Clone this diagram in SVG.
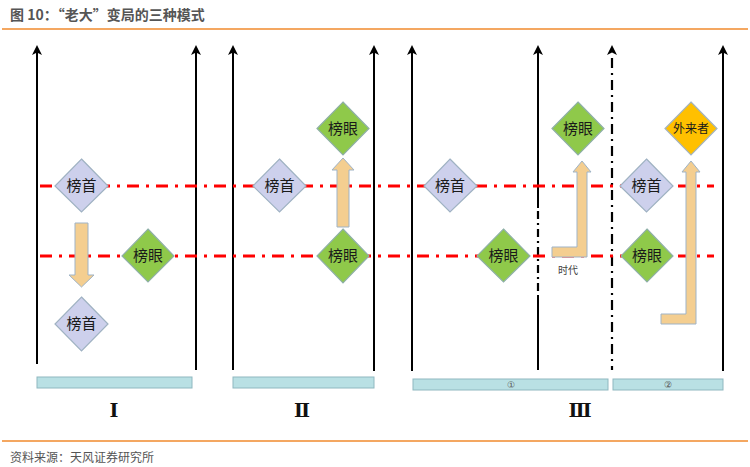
<svg xmlns="http://www.w3.org/2000/svg" xmlns:xlink="http://www.w3.org/1999/xlink" width="750" height="467" viewBox="0 0 750 467">
<style>
  .title{font-family:"Noto Sans CJK SC","Noto Sans",sans-serif;font-size:14px;font-weight:bold;fill:#555555}
  .src{font-family:"Noto Sans CJK SC","Noto Sans",sans-serif;font-size:12px;fill:#555555}
  .rule{stroke:#F08A2C;stroke-width:1.5}
  .axis{stroke:#000;stroke-width:2;fill:none}
  .axisdd{stroke:#000;stroke-width:2.2;fill:none;stroke-dasharray:10 5 2 5}
  .red{stroke:#FF0000;stroke-width:3;stroke-dasharray:12 7 3 7;fill:none}
  .arr{fill:#F4CE90;stroke:#9FB3C6;stroke-width:1}
  .d1{fill:#CDD0EC;stroke:#9FB2C2;stroke-width:1.2}
  .d2{fill:#8FC94A;stroke:#8FB0A8;stroke-width:1.2}
  .d3{fill:#FFC000;stroke:#A3B4C2;stroke-width:1.2}
  .lbl{font-family:"Noto Sans CJK SC","Noto Sans",sans-serif;font-size:15px;fill:#1a1a1a;text-anchor:middle}
  .lbls{font-family:"Noto Sans CJK SC","Noto Sans",sans-serif;font-size:12px;fill:#1a1a1a;text-anchor:middle}
  .bar{fill:#B9E0E4;stroke:#8FB8C0;stroke-width:1}
  .num{font-family:"DejaVu Sans",sans-serif;font-size:9px;fill:#555;text-anchor:middle}
  .rom{font-family:"DejaVu Serif",serif;font-size:19px;font-weight:bold;fill:#111;text-anchor:middle}
  .small{font-family:"Noto Sans CJK SC","Noto Sans",sans-serif;font-size:10px;fill:#444;text-anchor:middle}
</style>
<defs>
  <path id="head" d="M0 0 L5 10 L0 7.5 L-5 10 Z" fill="#000"/>
</defs>
<rect width="750" height="467" fill="#fff"/>
<text class="title" x="10" y="20">图 10：“老大”变局的三种模式</text>
<line class="rule" x1="2" y1="29" x2="748" y2="29"/>
<line class="rule" x1="2" y1="441" x2="748" y2="441"/>
<text class="src" x="10" y="462">资料来源：天风证券研究所</text>

<g id="connectors">
  <!-- axes -->
  <path class="axis" d="M37 50 L37 364"/>
  <use xlink:href="#head" href="#head" x="37" y="45"/>
  <path class="axis" d="M196 50 L196 370"/>
  <use xlink:href="#head" href="#head" x="196" y="45"/>
  <path class="axis" d="M233 50 L233 370"/>
  <use xlink:href="#head" href="#head" x="233" y="45"/>
  <path class="axis" d="M374 50 L374 371"/>
  <use xlink:href="#head" href="#head" x="374" y="45"/>
  <path class="axis" d="M412 50 L412 371"/>
  <use xlink:href="#head" href="#head" x="412" y="45"/>
  <path class="axis" d="M538 50 L538 208"/>
  <use xlink:href="#head" href="#head" x="538" y="45"/>
  <path class="axisdd" d="M538 211 L538 292" style="stroke-dasharray:8 4 2 4"/>
  <path class="axis" d="M538 295 L538 370"/>
  <path class="axisdd" d="M612 58 L612 370"/>
  <use xlink:href="#head" href="#head" x="612" y="45"/>
  <path class="axis" d="M723 50 L723 371"/>
  <use xlink:href="#head" href="#head" x="723" y="45"/>
  <!-- red level lines -->
  <line class="red" x1="40" y1="186" x2="714" y2="186"/>
  <line class="red" x1="40" y1="256" x2="714" y2="256"/>
  <!-- block arrows -->
  <polygon class="arr" points="75,223 88,223 88,275 94,275 81.5,287 69,275 75,275"/>
  <polygon class="arr" points="337,227 349,227 349,170 354,170 343,158 332,170 337,170"/>
  <polygon class="arr" points="552,247 577,247 577,172 573,172 582,161 591,172 587,172 587,257 552,257"/>
  <polygon class="arr" points="661,314 686,314 686,172 682,172 691,161 700,172 696,172 696,324 661,324"/>
</g>

<g id="n-I-top">
  <polygon class="d1" points="81.5,159 108,186 81.5,212 55,186"/>
  <text class="lbl" x="81.5" y="191">榜首</text>
</g>
<g id="n-I-second">
  <polygon class="d2" points="148,229 174,256 148,282 122,256"/>
  <text class="lbl" x="148" y="261">榜眼</text>
</g>
<g id="n-I-bottom">
  <polygon class="d1" points="81.5,297 108,324 81.5,351 55,324"/>
  <text class="lbl" x="81.5" y="329">榜首</text>
</g>

<g id="n-II-top">
  <polygon class="d1" points="279.5,159 306,186 279.5,212 253,186"/>
  <text class="lbl" x="279.5" y="191">榜首</text>
</g>
<g id="n-II-up">
  <polygon class="d2" points="343,102 369,128.5 343,155 317,128.5"/>
  <text class="lbl" x="343" y="134">榜眼</text>
</g>
<g id="n-II-second">
  <polygon class="d2" points="343,229 369,256 343,283 317,256"/>
  <text class="lbl" x="343" y="261">榜眼</text>
</g>

<g id="n-III1-top">
  <polygon class="d1" points="450,159 477,186 450,212 424,186"/>
  <text class="lbl" x="450" y="191">榜首</text>
</g>
<g id="n-III1-second">
  <polygon class="d2" points="503.5,229 530,256 503.5,282 477,256"/>
  <text class="lbl" x="503.5" y="261">榜眼</text>
</g>
<g id="n-III1-up">
  <polygon class="d2" points="578,102 604,128.5 578,155 552,128.5"/>
  <text class="lbl" x="578" y="134">榜眼</text>
</g>
<text class="small" x="568" y="274">时代</text>

<g id="n-III2-top">
  <polygon class="d1" points="646.5,159 673,186 646.5,212 620,186"/>
  <text class="lbl" x="646.5" y="191">榜首</text>
</g>
<g id="n-III2-second">
  <polygon class="d2" points="647,229 673,256 647,282 621,256"/>
  <text class="lbl" x="647" y="261">榜眼</text>
</g>
<g id="n-III2-outsider">
  <polygon class="d3" points="691,102 717,128.5 691,155 665,128.5"/>
  <text class="lbls" x="691" y="133">外来者</text>
</g>

<g id="bars">
  <rect class="bar" x="37" y="377" width="155" height="11"/>
  <rect class="bar" x="233" y="377" width="141" height="11"/>
  <rect class="bar" x="413" y="379" width="195" height="11"/>
  <text class="num" x="511" y="388">①</text>
  <rect class="bar" x="613" y="379" width="110" height="11"/>
  <text class="num" x="668" y="388">②</text>
</g>
<text class="rom" x="114" y="417">Ⅰ</text>
<text class="rom" x="302" y="417">Ⅱ</text>
<text class="rom" x="580" y="417">Ⅲ</text>
</svg>
